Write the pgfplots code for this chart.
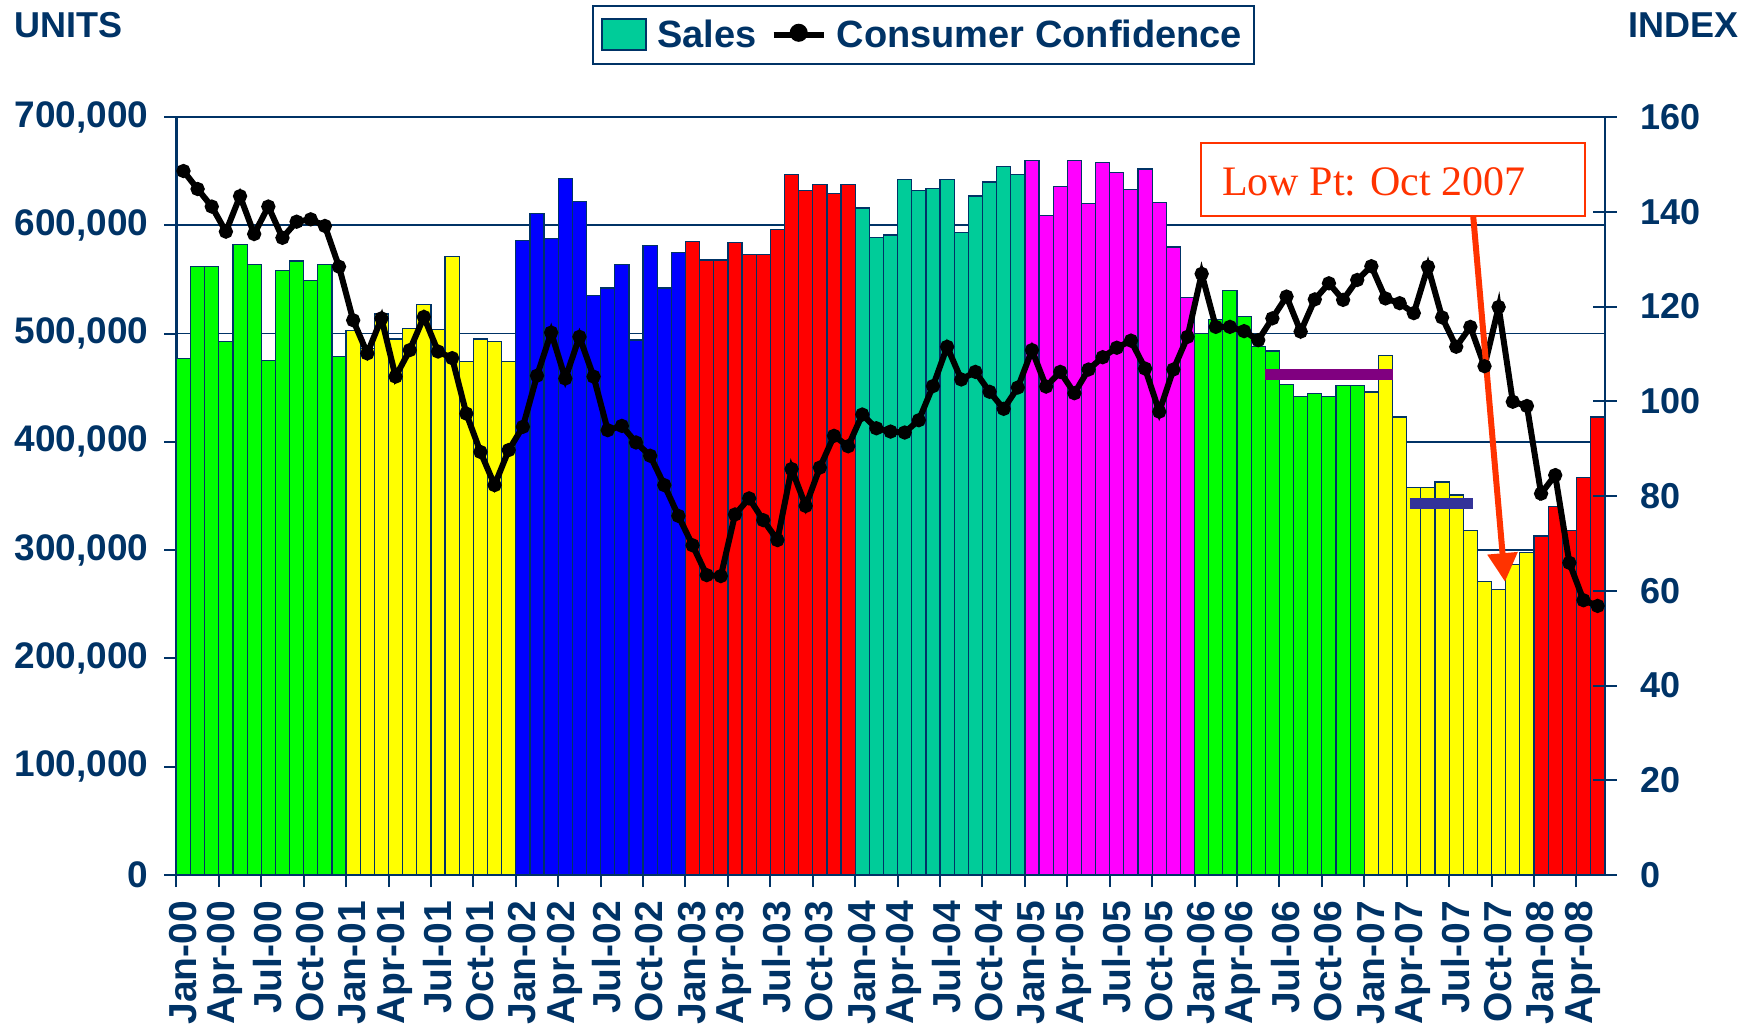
\documentclass[border=0pt]{standalone}
\usepackage{pgfplots}
\pgfplotsset{compat=1.18}
\usepackage{fontspec}
\setmainfont{Liberation Sans}
\newfontfamily\serifann{Liberation Serif}
\usetikzlibrary{arrows.meta}
\definecolor{navy}{HTML}{003366}
\definecolor{tealc}{HTML}{00CC99}
\definecolor{annot}{HTML}{FF3300}
\definecolor{purp}{HTML}{800080}
\definecolor{indig}{HTML}{333399}
\definecolor{grn}{HTML}{00FF00}
\definecolor{ylw}{HTML}{FFFF00}
\definecolor{blu}{HTML}{0000FF}
\definecolor{rd}{HTML}{FF0000}
\definecolor{mag}{HTML}{FF00FF}

\pgfplotstableread{
x y
0.5 148.6
1.5 144.8
2.5 141.1
3.5 135.8
4.5 143.3
5.5 135.3
6.5 141.1
7.5 134.5
8.5 137.9
9.5 138.4
10.5 137.0
11.5 128.4
12.5 117.1
13.5 110.1
14.5 117.5
15.5 105.2
16.5 110.8
17.5 117.8
18.5 110.5
19.5 109.1
20.5 97.4
21.5 89.3
22.5 82.3
23.5 89.7
24.5 94.6
25.5 105.4
26.5 114.5
27.5 104.8
28.5 113.6
29.5 105.2
30.5 93.9
31.5 94.8
32.5 91.3
33.5 88.5
34.5 82.3
35.5 75.8
36.5 69.6
37.5 63.3
38.5 63.1
39.5 76.1
40.5 79.5
41.5 74.9
42.5 70.7
43.5 85.7
44.5 77.9
45.5 86.0
46.5 92.7
47.5 90.5
48.5 97.2
49.5 94.3
50.5 93.6
51.5 93.4
52.5 96.0
53.5 103.2
54.5 111.5
55.5 104.6
56.5 106.2
57.5 102.0
58.5 98.4
59.5 102.9
60.5 110.8
61.5 103.1
62.5 106.2
63.5 101.7
64.5 106.7
65.5 109.3
66.5 111.3
67.5 112.8
68.5 106.9
69.5 97.8
70.5 106.7
71.5 113.6
72.5 126.9
73.5 115.7
74.5 115.7
75.5 114.8
76.5 112.9
77.5 117.5
78.5 122.1
79.5 114.7
80.5 121.5
81.5 124.9
82.5 121.4
83.5 125.6
84.5 128.5
85.5 121.7
86.5 120.7
87.5 118.6
88.5 128.4
89.5 117.7
90.5 111.5
91.5 115.7
92.5 107.4
93.5 119.9
94.5 99.9
95.5 99.0
96.5 80.5
97.5 84.4
98.5 65.9
99.5 58.0
100.5 56.8
}\ccdata

\newcommand{\tickfontY}{\fontsize{18.5}{20}\selectfont\bfseries}
\newcommand{\tickfontR}{\fontsize{18}{20}\selectfont\bfseries}
\newcommand{\tickfontX}{\fontsize{19.5}{21}\selectfont\bfseries}

\begin{document}
\begin{tikzpicture}
\path[use as bounding box] (-88.2pt,-75pt) rectangle (792.8pt,437.5pt);

\begin{axis}[
  at={(0pt,0pt)}, anchor=south west,
  scale only axis, width=714.15pt, height=379pt,
  xmin=0, xmax=101, ymin=0, ymax=700000,
  axis x line*=bottom, axis y line*=left,
  axis line style={navy, line width=1.2pt, -},
  xtick={0,3,...,99},
  xticklabels={Jan-00,Apr-00,Jul-00,Oct-00,Jan-01,Apr-01,Jul-01,Oct-01,Jan-02,Apr-02,Jul-02,Oct-02,Jan-03,Apr-03,Jul-03,Oct-03,Jan-04,Apr-04,Jul-04,Oct-04,Jan-05,Apr-05,Jul-05,Oct-05,Jan-06,Apr-06,Jul-06,Oct-06,Jan-07,Apr-07,Jul-07,Oct-07,Jan-08,Apr-08},
  ytick={0,100000,200000,300000,400000,500000,600000,700000},
  scaled y ticks=false,
  /pgf/number format/fixed,
  /pgf/number format/1000 sep={,},
  ymajorgrids, grid style={navy, line width=0.8pt},
  tick align=outside, major tick length=6pt,
  tick style={navy, line width=1pt},
  xticklabel shift=3.5pt,
  x tick label style={xshift=3.2pt, rotate=90, anchor=east, font=\tickfontX, text=navy},
  y tick label style={xshift=-4.5pt, font=\tickfontY, text=navy},
  /pgf/number format/assume math mode=true,
  clip=false,
]
\pgfplotsset{every axis plot/.append style={ybar, bar width=1, bar shift=0pt, draw=navy, line width=0.6pt}}
\addplot[fill=grn] coordinates {(0.5,477000) (1.5,562000) (2.5,562000) (3.5,493000) (4.5,582000) (5.5,564000) (6.5,475000) (7.5,558000) (8.5,567000) (9.5,549000) (10.5,564000) (11.5,479000)};
\addplot[fill=ylw] coordinates {(12.5,503000) (13.5,486000) (14.5,518000) (15.5,495000) (16.5,505000) (17.5,527000) (18.5,504000) (19.5,571000) (20.5,474000) (21.5,495000) (22.5,493000) (23.5,474000)};
\addplot[fill=blu] coordinates {(24.5,586000) (25.5,611000) (26.5,588000) (27.5,643000) (28.5,622000) (29.5,535000) (30.5,542000) (31.5,564000) (32.5,494000) (33.5,581000) (34.5,542000) (35.5,575000)};
\addplot[fill=rd] coordinates {(36.5,585000) (37.5,568000) (38.5,568000) (39.5,584000) (40.5,573000) (41.5,573000) (42.5,596000) (43.5,647000) (44.5,632000) (45.5,638000) (46.5,629000) (47.5,638000)};
\addplot[fill=tealc] coordinates {(48.5,616000) (49.5,589000) (50.5,591000) (51.5,642000) (52.5,632000) (53.5,634000) (54.5,642000) (55.5,593000) (56.5,627000) (57.5,640000) (58.5,654000) (59.5,647000)};
\addplot[fill=mag] coordinates {(60.5,660000) (61.5,609000) (62.5,636000) (63.5,660000) (64.5,620000) (65.5,658000) (66.5,649000) (67.5,633000) (68.5,652000) (69.5,621000) (70.5,580000) (71.5,533000)};
\addplot[fill=grn] coordinates {(72.5,500000) (73.5,513000) (74.5,540000) (75.5,516000) (76.5,488000) (77.5,484000) (78.5,453000) (79.5,442000) (80.5,445000) (81.5,442000) (82.5,452000) (83.5,452000)};
\addplot[fill=ylw] coordinates {(84.5,446000) (85.5,480000) (86.5,423000) (87.5,358000) (88.5,358000) (89.5,363000) (90.5,351000) (91.5,318000) (92.5,271000) (93.5,264000) (94.5,287000) (95.5,298000)};
\addplot[fill=rd] coordinates {(96.5,313000) (97.5,340000) (98.5,318000) (99.5,367000) (100.5,423000)};
% reference levels
\addplot[sharp plot, draw=purp, line width=5.3pt, line cap=butt, fill=none] coordinates {(77,462000) (86,462000)};
\addplot[sharp plot, draw=indig, line width=5.5pt, line cap=butt, fill=none] coordinates {(87.2,343500) (91.7,343500)};
\end{axis}

\begin{axis}[
  at={(0pt,0pt)}, anchor=south west,
  scale only axis, width=714.15pt, height=379pt,
  xmin=0, xmax=101, ymin=0, ymax=160,
  axis x line=none, axis y line*=right,
  axis line style={navy, line width=1.2pt, -},
  ytick={0,20,...,160},
  tick align=center, major tick length=12pt,
  tick style={navy, line width=1pt},
  y tick label style={xshift=8.4pt, font=\tickfontR, text=navy},
  /pgf/number format/assume math mode=true,
  clip=false,
  legend columns=2,
  legend style={at={(0.291,1.1484)}, anchor=north west, draw=navy, line width=1pt,
    font=\fontsize{19}{21}\selectfont\bfseries, text=navy, inner xsep=4pt, inner ysep=5pt,
    /tikz/every odd column/.append style={column sep=3pt},
    /tikz/every even column/.append style={column sep=5pt}},
]
\addlegendimage{legend image code/.code={\draw[fill=tealc, draw=navy, line width=1.2pt] (-2pt,-7.5pt) rectangle (20pt,8pt);}}
\addlegendentry{Sales}
\addplot[black, line width=3pt, mark=*, mark size=2pt,
  legend image code/.code={\draw[black, line width=3pt] (-3pt,0pt) -- (22pt,0pt); \fill[black] (9.5pt,1pt) circle (3pt);}] table[x=x,y=y] {\ccdata};
\addlegendentry{Consumer Confidence}
% annotation
\draw[annot, line width=1pt, fill=white] (axis cs:72.44,139.1) rectangle (axis cs:99.6,154.45);
\node[anchor=base west, inner sep=0pt, text=annot, font=\serifann\fontsize{21}{24}\selectfont] at (axis cs:73.93,143.5) {Low Pt: Oct 2007};
\draw[annot, line width=3pt, -{Triangle[width=14.5pt,length=14.3pt]}] (axis cs:91.7,139.1) -- (axis cs:93.95,61.9);
\end{axis}

\node[font=\fontsize{18}{20}\selectfont\bfseries, text=navy] at (-53.9pt,424.9pt) {UNITS};
\node[font=\fontsize{18}{20}\selectfont\bfseries, text=navy] at (753.4pt,424.9pt) {INDEX};
\end{tikzpicture}
\end{document}
